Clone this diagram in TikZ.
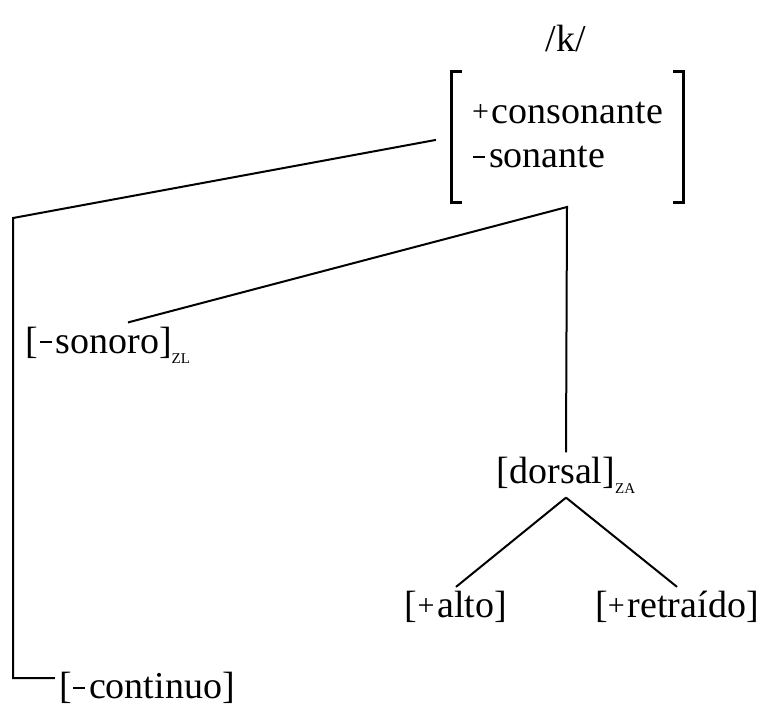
\documentclass[tikz,border=0pt]{standalone}
\usepackage{fontspec}
\setmainfont{Liberation Serif}
\usetikzlibrary{positioning}
\newcommand{\zsub}[1]{\raisebox{-5pt}{\fontsize{7.5}{8}\selectfont #1}}
\newcommand{\fplus}{\raisebox{1pt}{\fontsize{15}{15}\selectfont+}\kern1.5pt}
\newcommand{\fminus}{\kern0.5pt\rule[0.26em]{6pt}{1.1pt}\kern2pt}
\begin{document}
\begin{tikzpicture}[
    x=0.5pt, y=-0.5pt,
    font=\fontsize{19}{22}\selectfont,
    every node/.style={inner sep=2pt},
    line/.style={line width=1pt},
    brk/.style={line width=1.8pt}
  ]
  \useasboundingbox (0,0) rectangle (765,709);

  \node (kphon) at (566,38) {/k/};
  \node[minimum width=115.5pt, minimum height=65pt, inner sep=0pt] (feat) at (567.5,137)
    {\begin{tabular}{@{}l@{}}\fplus consonante\\\fminus sonante\end{tabular}};
  \draw[brk] ([xshift=5pt]feat.north west) -- (feat.north west) -- (feat.south west) -- ([xshift=5pt]feat.south west);
  \draw[brk] ([xshift=-5pt]feat.north east) -- (feat.north east) -- (feat.south east) -- ([xshift=-5pt]feat.south east);

  \node (sonoro) at (108,345) {[\fminus sonoro]\zsub{ZL}};
  \node (dorsal) at (566,475) {[dorsal]\zsub{ZA}};
  \node (alto) at (456,607) {[\fplus alto]};
  \node (retraido) at (677,607) {[\fplus retraído]};
  \node (continuo) at (147,688) {[\fminus continuo]};

  \coordinate (cornerL) at (13,218);
  \coordinate (fork) at (567,207);

  \draw[line, shorten <=8pt] (feat.west) -- (cornerL) |- ([yshift=5pt]continuo.west);
  \draw[line] ([xshift=10pt]sonoro.north) -- (fork) -- (dorsal.north);
  \draw[line] (dorsal.south) -- (alto.north);
  \draw[line] (dorsal.south) -- (retraido.north);
\end{tikzpicture}
\end{document}
